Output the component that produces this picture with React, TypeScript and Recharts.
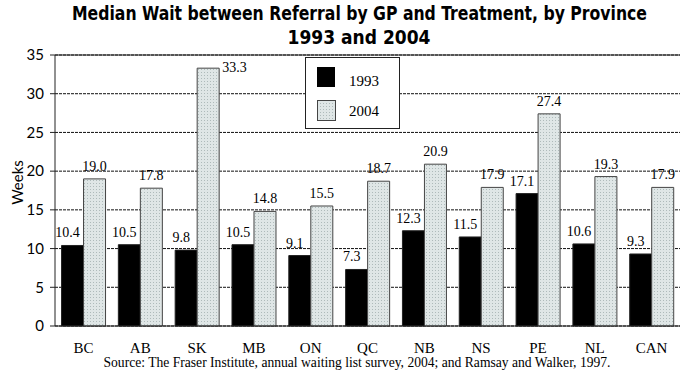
import { BarChart, Bar, XAxis, YAxis, CartesianGrid, ReferenceLine, Legend, LabelList } from 'recharts';

const provinces = ['BC', 'AB', 'SK', 'MB', 'ON', 'QC', 'NB', 'NS', 'PE', 'NL', 'CAN'];
const wait1993 = [10.4, 10.5, 9.8, 10.5, 9.1, 7.3, 12.3, 11.5, 17.1, 10.6, 9.3];
const wait2004 = [19.0, 17.8, 33.3, 14.8, 15.5, 18.7, 20.9, 17.9, 27.4, 19.3, 17.9];
const yTicks = [0, 5, 10, 15, 20, 25, 30, 35];
const edgeTicks = [1, 2, 3, 4, 5, 6, 7, 8, 9, 10];

const data = provinces.map((p, i) => ({ name: p, idx: i, y1993: wait1993[i], y2004: wait2004[i] }));

const SERIF = '"Liberation Serif", "DejaVu Serif", serif';
const SANS = 'Lato, "Open Sans", sans-serif';

function label1993(props: any) {
  const { x, y, width, value } = props;
  return (
    <text x={x + width / 2 - 5} y={y - 8} textAnchor="middle" fontFamily={SERIF} fontSize={14} fill="#000">
      {Number(value).toFixed(1)}
    </text>
  );
}

function label2004(props: any) {
  const { x, y, width, value } = props;
  // the tallest bar has its label beside the top, like the original
  if (value > 30) {
    return (
      <text x={x + width + 3} y={y + 4} textAnchor="start" fontFamily={SERIF} fontSize={14} fill="#000">
        {Number(value).toFixed(1)}
      </text>
    );
  }
  return (
    <text x={x + width / 2} y={y - 8} textAnchor="middle" fontFamily={SERIF} fontSize={14} fill="#000">
      {Number(value).toFixed(1)}
    </text>
  );
}

function LegendBox() {
  return (
    <div style={{ width: 95, height: 72, border: '1px solid #222', background: '#fff', boxSizing: 'border-box', position: 'relative', fontFamily: SERIF, fontSize: 15 }}>
      <div style={{ position: 'absolute', left: 11, top: 9, width: 18, height: 20, background: '#000' }} />
      <div style={{ position: 'absolute', left: 43, top: 16, lineHeight: '15px' }}>1993</div>
      <svg style={{ position: 'absolute', left: 11, top: 42 }} width={19} height={21}>
        <rect x={0.5} y={0.5} width={18} height={20} fill="url(#dots)" stroke="#444" />
      </svg>
      <div style={{ position: 'absolute', left: 43, top: 46, lineHeight: '15px' }}>2004</div>
    </div>
  );
}

export default function App() {
  return (
    <div style={{ position: 'absolute', left: 0, top: 0, width: 700, height: 378, background: '#fff' }}>
      <svg style={{ position: 'absolute', left: 0, top: 0 }} width={700} height={50}>
        <text x={72} y={20} textLength={575} lengthAdjust="spacingAndGlyphs" fontFamily='"DejaVu Sans Condensed", "DejaVu Sans", sans-serif' fontWeight="bold" fontSize={19} fill="#000">
          Median Wait between Referral by GP and Treatment, by Province
        </text>
        <text x={359} y={44} textAnchor="middle" fontFamily='"DejaVu Sans Condensed", "DejaVu Sans", sans-serif' fontWeight="bold" fontSize={19} fill="#000">
          1993 and 2004
        </text>
      </svg>
      <div style={{ position: 'absolute', left: 0, top: 0 }}>
        <BarChart
          width={700}
          height={378}
          data={data}
          margin={{ top: 55, right: 20, bottom: 22, left: 0 }}
          barCategoryGap="11.5%"
          barGap={0}
        >
          <defs>
            <pattern id="dots" width="3" height="3" patternUnits="userSpaceOnUse">
              <rect width="3" height="3" fill="#dfe6e6" />
              <rect width="1" height="1" fill="#aebaba" />
            </pattern>
          </defs>
          <CartesianGrid vertical={false} stroke="#111" strokeDasharray="3 1" />
          <XAxis
            xAxisId="edges"
            type="number"
            dataKey="idx"
            domain={[0, 11]}
            ticks={edgeTicks}
            tick={false}
            tickSize={5}
            tickLine={{ stroke: '#222' }}
            axisLine={false}
            height={0}
          />
          <XAxis
            dataKey="name"
            tickLine={false}
            axisLine={{ stroke: '#222' }}
            tickMargin={10}
            height={30}
            interval={0}
            tick={{ fontFamily: SERIF, fontSize: 15, fill: '#000' }}
          />
          <YAxis
            domain={[0, 35]}
            ticks={yTicks}
            width={55}
            tickSize={5}
            tickMargin={6}
            axisLine={{ stroke: '#222' }}
            tickLine={{ stroke: '#222' }}
            tick={{ fontFamily: SANS, fontSize: 15, fill: '#000' }}
            label={{
              content: ({ viewBox }: any) => (
                <text
                  x={17}
                  y={viewBox.y + viewBox.height / 2 - 8}
                  transform={`rotate(-90 17 ${viewBox.y + viewBox.height / 2 - 8})`}
                  textAnchor="middle"
                  dominantBaseline="central"
                  fontFamily={SANS}
                  fontSize={15}
                  fill="#000"
                >
                  Weeks
                </text>
              ),
            }}
          />
          <YAxis yAxisId="right" orientation="right" domain={[0, 35]} width={0} tick={false} tickLine={false} axisLine={{ stroke: '#222' }} />
          <ReferenceLine y={35} stroke="#222" />
          <Legend
            verticalAlign="middle"
            align="center"
            content={() => <LegendBox />}
            wrapperStyle={{ position: 'absolute', left: 305, top: 57, width: 95, height: 72 }}
          />
          <Bar dataKey="y1993" name="1993" fill="#000" stroke="#222" strokeWidth={1} isAnimationActive={false}>
            <LabelList dataKey="y1993" content={label1993} />
          </Bar>
          <Bar dataKey="y2004" name="2004" fill="url(#dots)" stroke="#444" strokeWidth={1} isAnimationActive={false}>
            <LabelList dataKey="y2004" content={label2004} />
          </Bar>
        </BarChart>
      </div>
      <div
        style={{
          position: 'absolute',
          left: 0,
          width: 700,
          top: 355,
          textAlign: 'center',
          paddingLeft: 14,
          boxSizing: 'border-box',
          fontFamily: SERIF,
          fontSize: 13.6,
          lineHeight: '16px',
          color: '#000',
        }}
      >
        Source: The Fraser Institute, annual waiting list survey, 2004; and Ramsay and Walker, 1997.
      </div>
    </div>
  );
}
